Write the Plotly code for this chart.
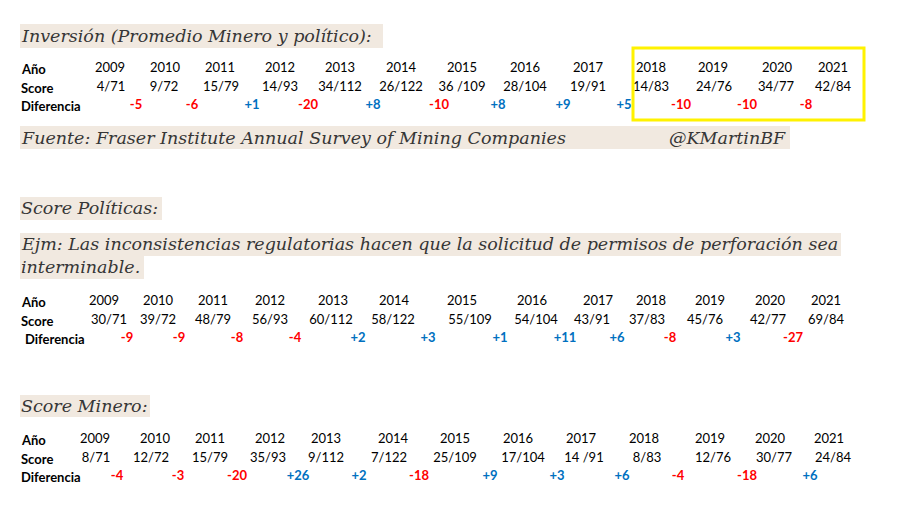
import plotly.graph_objects as go

# datos
years = ["2009", "2010", "2011", "2012", "2013", "2014", "2015",
         "2016", "2017", "2018", "2019", "2020", "2021"]

inv_score = ["4/71", "9/72", "15/79", "14/93", "34/112", "26/122", "36 /109",
             "28/104", "19/91", "14/83", "24/76", "34/77", "42/84"]
inv_diff = [-5, -6, 1, -20, 8, -10, 8, 9, 5, -10, -10, -8]

pol_score = ["30/71", "39/72", "48/79", "56/93", "60/112", "58/122", "55/109",
             "54/104", "43/91", "37/83", "45/76", "42/77", "69/84"]
pol_diff = [-9, -9, -8, -4, 2, 3, 1, 11, 6, -8, 3, -27]

min_score = ["8/71", "12/72", "15/79", "35/93", "9/112", "7/122", "25/109",
             "17/104", "14 /91", "8/83", "12/76", "30/77", "24/84"]
min_diff = [-4, -3, -20, 26, 2, -18, 9, 3, 6, -4, -18, 6]

# posiciones de columnas (px) para cada bloque
inv_year_x = [110, 165, 220, 280, 340, 401, 462, 525, 588, 651, 713, 777, 833]
inv_score_x = [111, 164, 221, 280, 340, 401, 462, 525, 588, 651, 714, 776, 833]
inv_diff_x = [136, 192, 252, 308, 373, 439, 498, 563, 624, 681, 747, 806]

pol_year_x = [104, 158, 213, 270, 333, 394, 462, 532, 598, 651, 710, 770, 826]
pol_score_x = [109, 158, 213, 270, 331, 393, 470, 536, 592, 647, 705, 768, 826]
pol_diff_x = [127, 179, 237, 295, 358, 428, 500, 565, 617, 670, 733, 793]

min_year_x = [95, 155, 210, 270, 326, 393, 455, 518, 581, 644, 710, 770, 829]
min_score_x = [96, 151, 210, 268, 326, 389, 455, 523, 584, 647, 713, 774, 833]
min_diff_x = [117, 178, 237, 298, 359, 419, 490, 557, 622, 678, 747, 810]

TABLE_FONT = "Lato"
SERIF = "DejaVu Serif"
BEIGE = "#F1E9E0"
RED = "#FF0000"
BLUE = "#0070C0"
FS = 13


def fmt(d):
    return ("+%d" % d) if d > 0 else str(d)


fig = go.Figure()


def add_block(yx, sx, dx, score, diff, y0, dif_label_x=19):
    fig.add_trace(go.Scatter(x=yx, y=[y0] * len(yx), text=years, mode="text",
                             textfont=dict(family=TABLE_FONT, size=FS, color="#000")))
    fig.add_trace(go.Scatter(x=sx, y=[y0 + 19] * len(sx), text=score, mode="text",
                             textfont=dict(family=TABLE_FONT, size=FS, color="#000")))
    fig.add_trace(go.Scatter(x=dx, y=[y0 + 37] * len(dx), text=["<b>%s</b>" % fmt(d) for d in diff],
                             mode="text",
                             textfont=dict(family=TABLE_FONT, size=FS,
                                           color=[RED if d < 0 else BLUE for d in diff])))
    for lbl, yy, xx in [("Año", y0, 19), ("Score", y0 + 19, 19), ("Diferencia", y0 + 37, dif_label_x)]:
        fig.add_annotation(x=xx, y=yy, text="<b>%s</b>" % lbl, showarrow=False,
                           xanchor="left", yanchor="middle",
                           font=dict(family=TABLE_FONT, size=FS, color="#000"))


add_block(inv_year_x, inv_score_x, inv_diff_x, inv_score, inv_diff, 69)
add_block(pol_year_x, pol_score_x, pol_diff_x, pol_score, pol_diff, 302, dif_label_x=23)
add_block(min_year_x, min_score_x, min_diff_x, min_score, min_diff, 440)

# fondos beige de los titulos
boxes = [(20, 383, 24, 48), (20, 790, 126, 149), (20, 162, 197, 220),
         (20, 841, 233, 256), (20, 144, 256, 279), (20, 150, 395, 417)]
for x0, x1, y0, y1 in boxes:
    fig.add_shape(type="rect", x0=x0, x1=x1, y0=y0, y1=y1, fillcolor=BEIGE,
                  line_width=0, layer="below")

titles = [
    ("Inversión (Promedio Minero y político):", 19, 36),
    ("Fuente: Fraser Institute Annual Survey of Mining Companies", 19, 138),
    ("@KMartinBF", 667, 138),
    ("Score Políticas:", 19, 208),
    ("Ejm: Las inconsistencias regulatorias hacen que la solicitud de permisos de perforación sea", 19, 244),
    ("interminable.", 19, 267),
    ("Score Minero:", 19, 406),
]
for txt, xx, yy in titles:
    fig.add_annotation(x=xx, y=yy, text="<i>%s</i>" % txt, showarrow=False,
                       xanchor="left", yanchor="middle",
                       font=dict(family=SERIF, size=17.5, color="#363636"))

# recuadro amarillo 2018-2021
fig.add_shape(type="rect", x0=633, x1=864, y0=48, y1=120,
              line=dict(color="#FFF200", width=3), fillcolor="rgba(0,0,0,0)")

# la pagina deja 8px de margen, se compensa en el rango
fig.update_xaxes(range=[8, 897], visible=False, fixedrange=True)
fig.update_yaxes(range=[507, 8], visible=False, fixedrange=True)
fig.update_layout(width=889, height=499, margin=dict(l=0, r=0, t=0, b=0),
                  plot_bgcolor="white", paper_bgcolor="white", showlegend=False)

fig.write_html("out.html")
